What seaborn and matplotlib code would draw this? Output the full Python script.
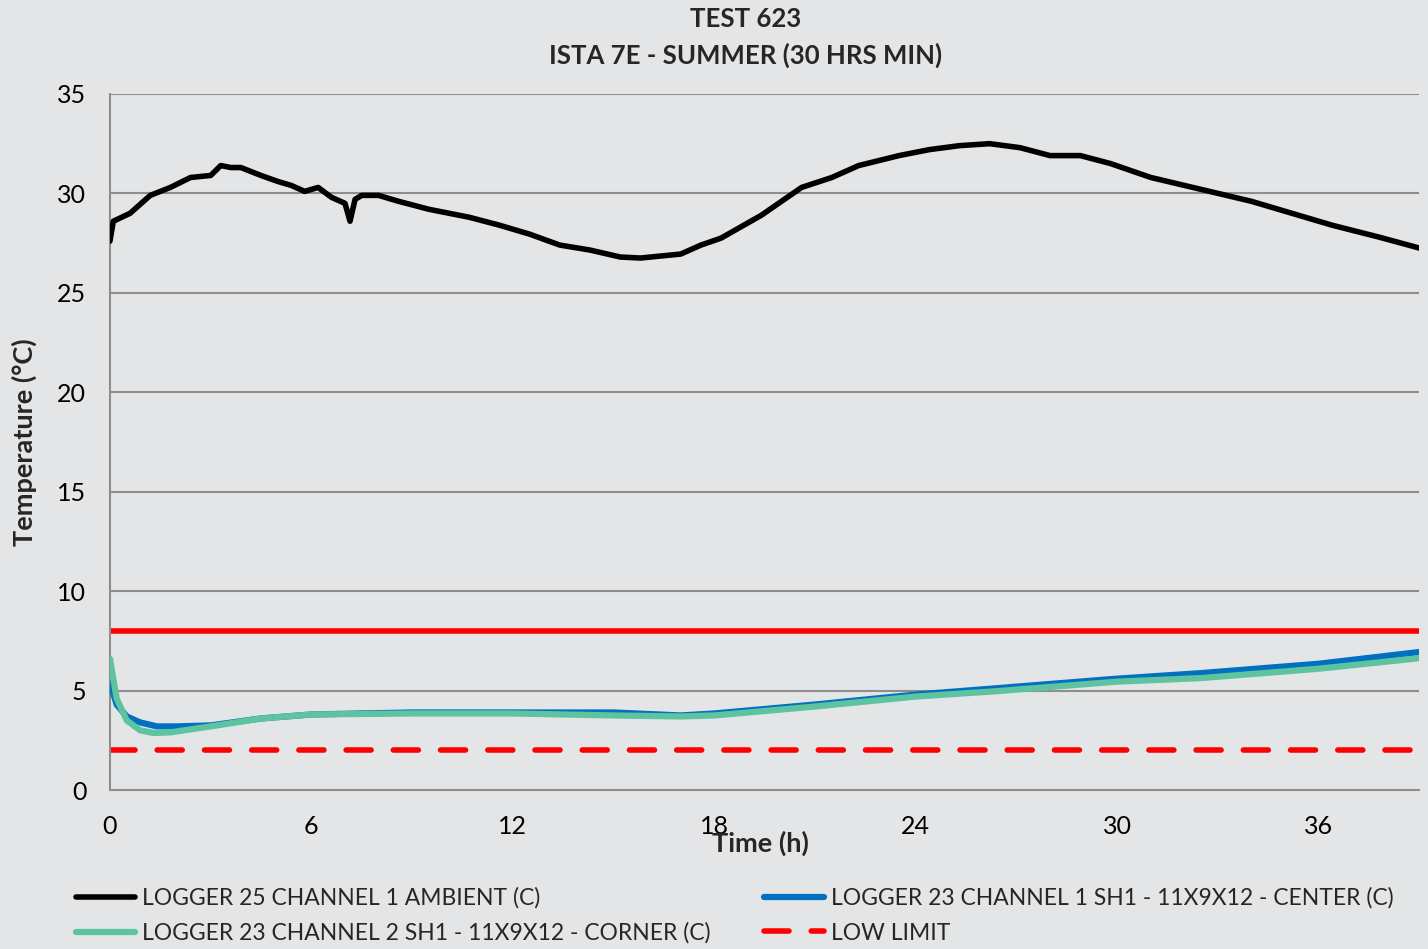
import numpy as np
import pandas as pd
import matplotlib.pyplot as plt
import seaborn as sns

# Dados
amb_h = [0.0, 0.1, 0.6, 1.2, 1.8, 2.4, 3.0, 3.3, 3.6, 3.9, 4.5, 5.0, 5.4, 5.8, 6.2, 6.6, 7.0,
         7.15, 7.3, 7.5, 8.0, 8.6, 9.5, 10.7, 11.6, 12.5, 13.4, 14.3, 15.2, 15.8, 17.0, 17.6,
         18.2, 19.4, 20.6, 21.5, 22.3, 23.5, 24.4, 25.3, 26.2, 27.1, 28.0, 28.9, 29.8, 31.0,
         32.5, 34.0, 35.2, 36.4, 37.8, 39.0]
amb_t = [27.6, 28.6, 29.0, 29.9, 30.3, 30.8, 30.9, 31.4, 31.3, 31.3, 30.9, 30.6, 30.4, 30.1,
         30.3, 29.8, 29.5, 28.6, 29.7, 29.9, 29.9, 29.6, 29.2, 28.8, 28.4, 27.95, 27.4, 27.15,
         26.8, 26.75, 26.95, 27.4, 27.75, 28.9, 30.3, 30.8, 31.4, 31.9, 32.2, 32.4, 32.5, 32.3,
         31.9, 31.9, 31.5, 30.8, 30.2, 29.6, 29.0, 28.4, 27.8, 27.25]

center_h = [0.0, 0.2, 0.5, 0.9, 1.4, 2.0, 3.0, 4.5, 6.0, 9.0, 12.0, 15.0, 17.0, 18.0, 21.0,
            24.0, 26.5, 27.0, 30.0, 32.5, 36.0, 39.0]
center_t = [5.4, 4.3, 3.7, 3.4, 3.2, 3.2, 3.25, 3.6, 3.8, 3.9, 3.9, 3.9, 3.75, 3.85, 4.3,
            4.8, 5.13, 5.2, 5.6, 5.88, 6.35, 6.94]

corner_h = [0.0, 0.2, 0.5, 0.9, 1.3, 1.8, 3.0, 4.5, 6.0, 9.0, 12.0, 15.0, 17.0, 18.0, 21.0,
            24.0, 26.5, 27.0, 30.0, 32.5, 36.0, 39.0]
corner_t = [6.6, 4.6, 3.5, 3.0, 2.87, 2.9, 3.2, 3.6, 3.8, 3.85, 3.85, 3.75, 3.7, 3.75, 4.2,
            4.7, 4.98, 5.05, 5.45, 5.63, 6.1, 6.63]

high_limit = 8
low_limit = 2

lbl_amb = 'LOGGER 25 CHANNEL 1 AMBIENT (C)'
lbl_center = 'LOGGER 23 CHANNEL 1 SH1 - 11X9X12 - CENTER (C)'
lbl_corner = 'LOGGER 23 CHANNEL 2 SH1 - 11X9X12 - CORNER (C)'
lbl_low = 'LOW LIMIT'

bg = '#E4E5E7'
grid_c = '#8E8E8E'

sns.set_theme(style='white')
plt.rcParams['font.family'] = ['Lato', 'DejaVu Sans']

fig = plt.figure(figsize=(14.28, 9.49), dpi=100, facecolor=bg)
ax = fig.add_axes([0.077, 0.1675, 0.917, 0.7335])
ax.set_facecolor(bg)

for y in range(0, 36, 5):
    ax.axhline(y, color=grid_c, lw=1.5, zorder=0)

ax.axhline(high_limit, color='#FF0000', lw=4, zorder=2)
ax.axhline(low_limit, color='#FF0000', lw=4, ls=(0, (4.5, 4.0)), dash_capstyle='round',
           zorder=2, label=lbl_low)

sns.lineplot(x=amb_h, y=amb_t, color='black', lw=4, ax=ax, label=lbl_amb, zorder=3)
sns.lineplot(x=center_h, y=center_t, color='#0070C0', lw=4.5, ax=ax, label=lbl_center, zorder=3)
sns.lineplot(x=corner_h, y=corner_t, color='#5EC4A0', lw=4.5, ax=ax, label=lbl_corner, zorder=4)

ax.set_xlim(0, 39)
ax.set_ylim(0, 35)
ax.set_xticks(range(0, 39, 6))
ax.set_xticks(range(0, 40), minor=True)
ax.set_yticks(range(0, 36, 5))
ax.set_yticks(range(0, 36), minor=True)
ax.tick_params(axis='both', which='both', direction='inout', color=grid_c, width=1.5,
               labelsize=18, labelcolor='black')
ax.tick_params(axis='x', which='major', length=18, pad=9)
ax.tick_params(axis='x', which='minor', length=12)
ax.tick_params(axis='y', which='major', length=14, pad=10)
ax.tick_params(axis='y', which='minor', length=12)

for s in ['top', 'right']:
    ax.spines[s].set_visible(False)
for s in ['left', 'bottom']:
    ax.spines[s].set_color(grid_c)
    ax.spines[s].set_linewidth(1.5)

ax.set_xlabel('Time (h)', fontsize=19.5, fontweight='bold')
ax.set_ylabel('Temperature (°C)', fontsize=19.5, fontweight='bold')
ax.xaxis.set_label_coords(0.497, -0.058)
ax.yaxis.set_label_coords(-0.056, 0.5)

fig.text(0.522, 0.98, 'TEST 623', ha='center', va='center', fontsize=18.5, fontweight='bold')
fig.text(0.522, 0.942, 'ISTA 7E - SUMMER (30 HRS MIN)', ha='center', va='center',
         fontsize=18.5, fontweight='bold')

handles, labels = ax.get_legend_handles_labels()
hmap = dict(zip(labels, handles))
order = [lbl_amb, lbl_corner, lbl_center, lbl_low]
ax.legend([hmap[k] for k in order], order, ncol=2, loc='upper left',
          bbox_to_anchor=(-0.042, -0.11), frameon=False, fontsize=16.5,
          handlelength=2.6, handletextpad=0.3, columnspacing=2.35, labelspacing=0.6)

fig.savefig('out.png', dpi=100, facecolor=bg)
